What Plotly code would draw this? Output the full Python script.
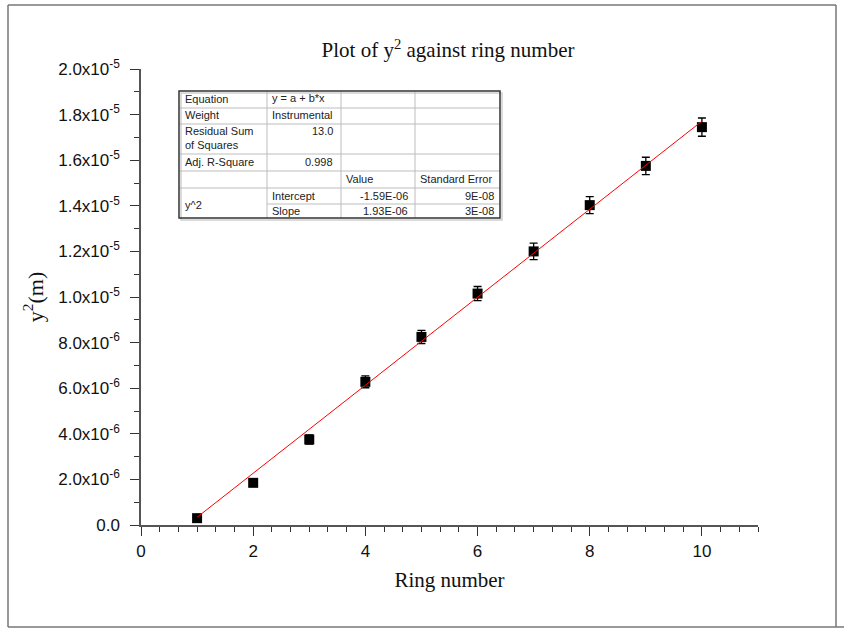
import plotly.graph_objects as go

# ---- data ----
ring_number = [1, 2, 3, 4, 5, 6, 7, 8, 9, 10]
y_squared = [0.30e-6, 1.85e-6, 3.75e-6, 6.28e-6, 8.25e-6, 10.15e-6, 12.0e-6, 14.03e-6, 15.75e-6, 17.45e-6]
y_err = [0.10e-6, 0.15e-6, 0.20e-6, 0.26e-6, 0.29e-6, 0.31e-6, 0.36e-6, 0.37e-6, 0.38e-6, 0.40e-6]

fit_intercept = -1.59e-6
fit_slope = 1.93e-6

y_tick_vals = [0, 2e-6, 4e-6, 6e-6, 8e-6, 1.0e-5, 1.2e-5, 1.4e-5, 1.6e-5, 1.8e-5, 2.0e-5]
y_tick_text = ["0.0", "2.0x10<sup>-6</sup>", "4.0x10<sup>-6</sup>", "6.0x10<sup>-6</sup>",
               "8.0x10<sup>-6</sup>", "1.0x10<sup>-5</sup>", "1.2x10<sup>-5</sup>",
               "1.4x10<sup>-5</sup>", "1.6x10<sup>-5</sup>", "1.8x10<sup>-5</sup>",
               "2.0x10<sup>-5</sup>"]

table_labels = ["Equation", "Weight", "Residual Sum<br>of Squares", "Adj. R-Square", "", "y^2"]
table_equation = "y = a + b*x"
table_weight = "Instrumental"
table_rss = "13.0"
table_adj_r2 = "0.998"
table_header = ["Value", "Standard Error"]
table_params = ["Intercept", "Slope"]
table_values = ["-1.59E-06", "1.93E-06"]
table_errors = ["9E-08", "3E-08"]

# ---- geometry helpers (pixel -> paper) ----
W, H = 844, 628
L, R, T, B = 141, 758, 69, 525

def px(x):
    return (x - L) / (R - L)

def py(y):
    return (B - y) / (B - T)

fit_x = [ring_number[0], ring_number[-1]]
fit_y = [fit_intercept + fit_slope * v for v in fit_x]

fig = go.Figure()
fig.add_trace(go.Scatter(
    x=ring_number, y=y_squared, mode="markers",
    marker=dict(symbol="square", size=10, color="black", line=dict(width=0)),
    error_y=dict(type="data", array=y_err, visible=True, color="black", thickness=1.3, width=4),
    showlegend=False,
))
fig.add_trace(go.Scatter(
    x=fit_x, y=fit_y, mode="lines", line=dict(color="red", width=1), showlegend=False,
))

serif = "Times New Roman, Liberation Serif, serif"
sans = "Arial, Liberation Sans, sans-serif"

fig.update_layout(
    width=W, height=H,
    margin=dict(l=L, r=W - R, t=T, b=H - B, pad=0),
    paper_bgcolor="white", plot_bgcolor="white",
    title=dict(text="Plot of y<sup>2</sup> against ring number", x=(448) / W, xanchor="center",
               y=1 - 50 / H, yanchor="middle", font=dict(family=serif, size=21, color="#111")),
    xaxis=dict(range=[0, 11], showgrid=False, zeroline=False, showline=True, linecolor="#555", linewidth=1.5,
               ticks="outside", ticklen=9, tickwidth=1.3, tickcolor="#333", dtick=2, tick0=0,
               minor=dict(dtick=1/3, ticks="outside", ticklen=5, tickwidth=1.2, tickcolor="#333"),
               tickfont=dict(family=sans, size=17, color="#111"), ticklabelstandoff=1,
               title=dict(text="Ring number", font=dict(family=serif, size=21, color="#111"), standoff=12)),
    yaxis=dict(range=[0, 2.0e-5], showgrid=False, zeroline=False, showline=True, linecolor="#555", linewidth=1.5,
               ticks="outside", ticklen=9, tickwidth=1.3, tickcolor="#333",
               tickmode="array", tickvals=y_tick_vals, ticktext=y_tick_text,
               minor=dict(dtick=1e-6, ticks="outside", ticklen=5, tickwidth=1.2, tickcolor="#333"),
               tickfont=dict(family=sans, size=17, color="#111"), ticklabelstandoff=7,
               title=dict(text="y<sup>2</sup>(m)", font=dict(family=serif, size=22, color="#111"), standoff=9)),
)

shapes = []
# page frame
frame_col = "#777"
shapes.append(dict(type="line", xref="paper", yref="paper", x0=px(8), x1=px(8), y0=py(5), y1=py(627),
                   line=dict(color=frame_col, width=1.5)))
shapes.append(dict(type="line", xref="paper", yref="paper", x0=px(8), x1=px(836), y0=py(5), y1=py(5),
                   line=dict(color=frame_col, width=1.5)))
shapes.append(dict(type="line", xref="paper", yref="paper", x0=px(8), x1=px(844), y0=py(627), y1=py(627),
                   line=dict(color=frame_col, width=1.5)))
shapes.append(dict(type="line", xref="paper", yref="paper", x0=px(836), x1=px(836), y0=py(5), y1=py(627),
                   line=dict(color=frame_col, width=1.5)))

# table grid
tl, tr, tt, tb = 179, 500, 91, 218
cols = [267, 341, 415]
rows_full = [108, 124, 154, 171, 188]
inner = dict(color="#bdbdbd", width=1)
for c in cols:
    shapes.append(dict(type="line", xref="paper", yref="paper", x0=px(c), x1=px(c), y0=py(tt), y1=py(tb), line=inner))
for r in rows_full:
    shapes.append(dict(type="line", xref="paper", yref="paper", x0=px(tl), x1=px(tr), y0=py(r), y1=py(r), line=inner))
shapes.append(dict(type="line", xref="paper", yref="paper", x0=px(cols[0]), x1=px(tr), y0=py(204), y1=py(204), line=inner))
# shadow and border
shapes.append(dict(type="rect", xref="paper", yref="paper", x0=px(tl + 2), x1=px(tr + 2), y0=py(tb + 2), y1=py(tt + 2),
                   line=dict(color="#d0d0d0", width=1.5), layer="below"))
shapes.append(dict(type="rect", xref="paper", yref="paper", x0=px(tl), x1=px(tr), y0=py(tb), y1=py(tt),
                   line=dict(color="#333", width=1.5), fillcolor="rgba(0,0,0,0)"))

annotations = []
def txt(s, x, y, anchor="left"):
    annotations.append(dict(text=s, xref="paper", yref="paper", x=px(x), y=py(y), xanchor=anchor,
                            yanchor="middle", showarrow=False, align=anchor,
                            font=dict(family=sans, size=11, color="#222")))

label_y = [99, 115, 138, 162, 179, 205]
for lab, yy in zip(table_labels, label_y):
    if lab:
        txt(lab, 183, yy)
txt(table_equation, 270, 98)
txt(table_weight, 270, 115)
txt(table_rss, 335, 131, "right")
txt(table_adj_r2, 335, 162, "right")
txt(table_header[0], 344, 179)
txt(table_header[1], 418, 179)
for i, yy in enumerate([196, 211]):
    txt(table_params[i], 270, yy)
    txt(table_values[i], 410, yy, "right")
    txt(table_errors[i], 496, yy, "right")

fig.update_layout(shapes=shapes, annotations=annotations)
fig.write_html("out.html", config={"displayModeBar": False},
               post_script="document.body.style.margin='0';document.body.style.overflow='hidden';")
